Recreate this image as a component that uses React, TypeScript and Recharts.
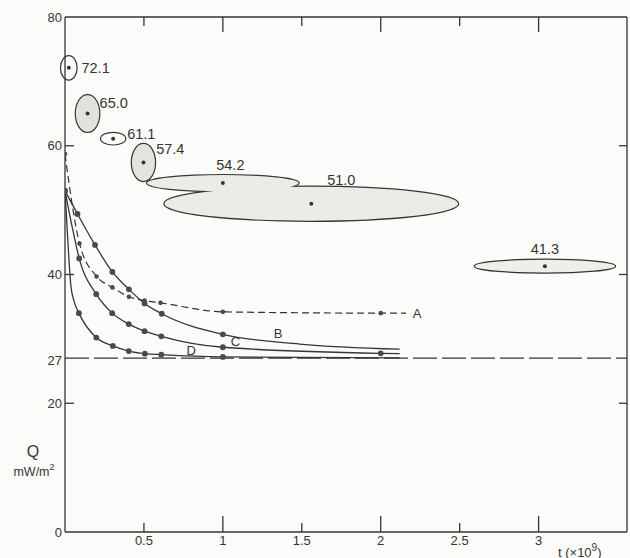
import React from 'react';
import { LineChart, Line, XAxis, YAxis, ReferenceLine, ReferenceArea, ReferenceDot } from 'recharts';

// axis ticks
const xTicks = [0.5, 1, 1.5, 2, 2.5, 3];
const yTicks = [0, 20, 27, 40, 60, 80];
const frameYTicks = [20, 40, 60];
const xMax = 3.56;
const yMax = 80;

// heat-flow estimates with error ellipses (t in 10^9 yr, Q in mW/m2)
const estT = [0.024, 0.143, 0.305, 0.497, 1.0, 1.56, 3.04];
const estQ = [72.1, 65.0, 61.1, 57.4, 54.2, 51.0, 41.3];
const estDT = [0.049, 0.074, 0.076, 0.073, 0.48, 0.93, 0.444];
const estDQ = [1.8, 2.85, 0.89, 2.88, 1.24, 2.64, 0.98];

// model curves, m = plotted point
const curveA = [
  { t: 0, q: 58.7, m: true },
  { t: 0.092, q: 44.8, m: true },
  { t: 0.2, q: 39.7, m: true },
  { t: 0.3, q: 38.0, m: true },
  { t: 0.405, q: 36.55, m: true },
  { t: 0.504, q: 35.95, m: true },
  { t: 0.605, q: 35.6, m: true },
  { t: 1.0, q: 34.2, m: true },
  { t: 2.0, q: 34.0, m: true },
  { t: 2.16, q: 34.0, m: false },
];
const curveB = [
  { t: 0, q: 53.0, m: true },
  { t: 0.079, q: 49.4, m: true },
  { t: 0.19, q: 44.6, m: true },
  { t: 0.3, q: 40.4, m: true },
  { t: 0.405, q: 37.7, m: true },
  { t: 0.504, q: 35.5, m: true },
  { t: 0.613, q: 33.9, m: true },
  { t: 1.0, q: 30.7, m: true },
  { t: 1.486, q: 29.2, m: false },
  { t: 2.12, q: 28.4, m: false },
];
const curveC = [
  { t: 0, q: 53.0, m: true },
  { t: 0.047, q: 47.2, m: false },
  { t: 0.09, q: 42.5, m: true },
  { t: 0.198, q: 36.95, m: true },
  { t: 0.299, q: 34.0, m: true },
  { t: 0.404, q: 32.3, m: true },
  { t: 0.504, q: 31.2, m: true },
  { t: 0.61, q: 30.4, m: true },
  { t: 1.0, q: 28.7, m: true },
  { t: 2.0, q: 27.75, m: true },
  { t: 2.12, q: 27.7, m: false },
];
const curveD = [
  { t: 0, q: 53.0, m: true },
  { t: 0.016, q: 46.1, m: false },
  { t: 0.037, q: 38.3, m: false },
  { t: 0.058, q: 35.8, m: false },
  { t: 0.088, q: 34.0, m: true },
  { t: 0.198, q: 30.2, m: true },
  { t: 0.303, q: 28.9, m: true },
  { t: 0.404, q: 28.1, m: true },
  { t: 0.506, q: 27.7, m: true },
  { t: 0.61, q: 27.55, m: true },
  { t: 1.0, q: 27.2, m: true },
  { t: 2.12, q: 27.05, m: false },
];
const steadyQ = 27;

// layout (not data)
const INK = '#353535';
const FONT = '"Liberation Sans", Arial, sans-serif';
const W = 630;
const H = 558;
const M_TOP = 17;
const M_RIGHT = 3;
const PLOT_RIGHT = W - M_RIGHT;
const shade = ['#fbfbf9', '#e2e2dd', '#fbfbf9', '#e4e4df', '#ecece7', '#ecece7', '#efefea'];
const estLabel = [
  { anchor: 'start', dx: 12.7, dy: 0 },
  { anchor: 'start', dx: 12, dy: -10.3 },
  { anchor: 'start', dx: 14, dy: -5 },
  { anchor: 'start', dx: 12.7, dy: -13 },
  { anchor: 'middle', dx: 7.5, dy: -17.8 },
  { anchor: 'middle', dx: 30, dy: -23.3 },
  { anchor: 'middle', dx: 0, dy: -16.7 },
];
const curveNames = [
  { name: 'A', t: 2.23, q: 34.0 },
  { name: 'B', t: 1.35, q: 30.85 },
  { name: 'C', t: 1.08, q: 29.55 },
  { name: 'D', t: 0.8, q: 28.25 },
];

const geom = (p: any) => ({ cx: p.x + p.width / 2, cy: p.y + p.height / 2, rx: Math.abs(p.width / 2), ry: Math.abs(p.height / 2) });

const edgeShape = () => (p: any) => {
  const g = geom(p);
  return <ellipse {...g} fill="none" stroke={INK} strokeWidth={2.4} />;
};
const fillShape = (i: number) => (p: any) => {
  const g = geom(p);
  return <ellipse {...g} fill={shade[i]} stroke="none" />;
};
const markShape = (i: number) => (p: any) => {
  const g = geom(p);
  const l = estLabel[i];
  return (
    <g>
      <circle cx={g.cx} cy={g.cy} r={2} fill={INK} />
      <text x={g.cx + l.dx} y={g.cy + l.dy} textAnchor={l.anchor as any} dominantBaseline="central" fontSize={14.5} fill={INK} fontFamily={FONT}>
        {estQ[i].toFixed(1)}
      </text>
    </g>
  );
};

// left ticks: label + inward mark, plus the matching inward mark on the right edge
const LeftTick = ({ x, y, payload }: any) => {
  const v = payload.value;
  const mark = frameYTicks.includes(v);
  return (
    <g>
      {mark && <line x1={x} x2={x + 9} y1={y} y2={y} stroke={INK} strokeWidth={1.3} />}
      {mark && <line x1={PLOT_RIGHT} x2={PLOT_RIGHT - 8} y1={y} y2={y} stroke={INK} strokeWidth={1.3} />}
      <text x={x - 3} y={v === 27 ? y + 2 : y} textAnchor="end" dominantBaseline="central" fontSize={13} fill={INK} fontFamily={FONT}>
        {v}
      </text>
    </g>
  );
};
// bottom ticks: label + inward mark, plus the matching mark hanging from the top edge
const BottomTick = ({ x, y, payload }: any) => {
  const v = payload.value;
  const major = Number.isInteger(v);
  return (
    <g>
      <line x1={x} x2={x} y1={y} y2={y - (major ? 16 : 9)} stroke={INK} strokeWidth={1.3} />
      <line x1={x} x2={x} y1={M_TOP} y2={M_TOP + (major ? 15 : 9)} stroke={INK} strokeWidth={1.3} />
      <text x={x} y={y + 8} textAnchor="middle" dominantBaseline="central" fontSize={13} fill={INK} fontFamily={FONT}>
        {v}
      </text>
    </g>
  );
};

// x title, also closes the box (top and right edges) from the axis geometry
const XTitle = ({ viewBox }: any) => {
  const left = viewBox.x;
  const right = viewBox.x + viewBox.width;
  const bottom = viewBox.y;
  return (
    <g>
      <line x1={left} x2={right} y1={M_TOP} y2={M_TOP} stroke={INK} strokeWidth={1.3} />
      <line x1={right} x2={right} y1={M_TOP} y2={bottom} stroke={INK} strokeWidth={1.3} />
      <text x={right - 69} y={bottom + 20} fontSize={13} fill={INK} fontFamily={FONT} dominantBaseline="central">
        t (×10<tspan dy={-5} fontSize={10}>9</tspan>
        <tspan dy={5}>)</tspan>
      </text>
    </g>
  );
};
const YTitle = ({ viewBox }: any) => (
  <g fontFamily={FONT} fill={INK}>
    <text x={viewBox.x + 33} y={451} textAnchor="middle" dominantBaseline="central" fontSize={16}>Q</text>
    <text x={viewBox.x + 34} y={472} textAnchor="middle" dominantBaseline="central" fontSize={12.5}>
      mW/m<tspan dy={-5} fontSize={9}>2</tspan>
    </text>
  </g>
);

const curveDot = (r: number) => (p: any) =>
  p.payload.m ? <circle key={p.index} cx={p.cx} cy={p.cy} r={r} fill="#4a4a4a" /> : <g key={p.index} />;

const App = () => {
  const areaProps = (i: number) => ({
    xAxisId: 'b',
    yAxisId: 'l',
    x1: estT[i] - estDT[i],
    x2: estT[i] + estDT[i],
    y1: estQ[i] - estDQ[i],
    y2: estQ[i] + estDQ[i],
    ifOverflow: 'visible' as const,
  });
  return (
    <div style={{ position: 'absolute', left: 0, top: 0, width: W, height: H, background: '#fbfbf9' }}>
      <LineChart width={W} height={H} margin={{ top: M_TOP, right: M_RIGHT, left: 0, bottom: 0 }}>
        <XAxis xAxisId="b" type="number" dataKey="t" domain={[0, xMax]} ticks={xTicks} tick={<BottomTick />}
          tickSize={0} tickMargin={0} tickLine={false} height={26} axisLine={{ stroke: INK, strokeWidth: 1.3 }}
          label={<XTitle />} allowDataOverflow />
        <YAxis yAxisId="l" type="number" domain={[0, yMax]} ticks={yTicks} tick={<LeftTick />} interval={0}
          tickSize={0} tickMargin={0} tickLine={false} width={65} axisLine={{ stroke: INK, strokeWidth: 1.3 }}
          label={<YTitle />} />

        <ReferenceLine xAxisId="b" yAxisId="l" y={steadyQ} stroke={INK} strokeWidth={1.3} strokeDasharray="24 5" />

        {estQ.map((_, i) => <ReferenceArea key={'e' + i} {...areaProps(i)} shape={edgeShape()} />)}
        {estQ.map((_, i) => <ReferenceArea key={'f' + i} {...areaProps(i)} shape={fillShape(i)} />)}
        {estQ.map((_, i) => <ReferenceArea key={'m' + i} {...areaProps(i)} shape={markShape(i)} />)}

        <Line xAxisId="b" yAxisId="l" data={curveA} dataKey="q" type="monotone" stroke={INK} strokeWidth={1.2}
          strokeDasharray="7 4" dot={curveDot(2.3)} activeDot={false} isAnimationActive={false} />
        <Line xAxisId="b" yAxisId="l" data={curveB} dataKey="q" type="monotone" stroke={INK} strokeWidth={1.3}
          dot={curveDot(2.9)} activeDot={false} isAnimationActive={false} />
        <Line xAxisId="b" yAxisId="l" data={curveC} dataKey="q" type="monotone" stroke={INK} strokeWidth={1.3}
          dot={curveDot(2.9)} activeDot={false} isAnimationActive={false} />
        <Line xAxisId="b" yAxisId="l" data={curveD} dataKey="q" type="monotone" stroke={INK} strokeWidth={1.3}
          dot={curveDot(2.9)} activeDot={false} isAnimationActive={false} />

        {curveNames.map((c) => (
          <ReferenceDot key={c.name} xAxisId="b" yAxisId="l" x={c.t} y={c.q} ifOverflow="visible"
            shape={(p: any) => (
              <text x={p.cx} y={p.cy} textAnchor="middle" dominantBaseline="central" fontSize={13} fill={INK} fontFamily={FONT}>
                {c.name}
              </text>
            )} />
        ))}
      </LineChart>
    </div>
  );
};

export default App;
